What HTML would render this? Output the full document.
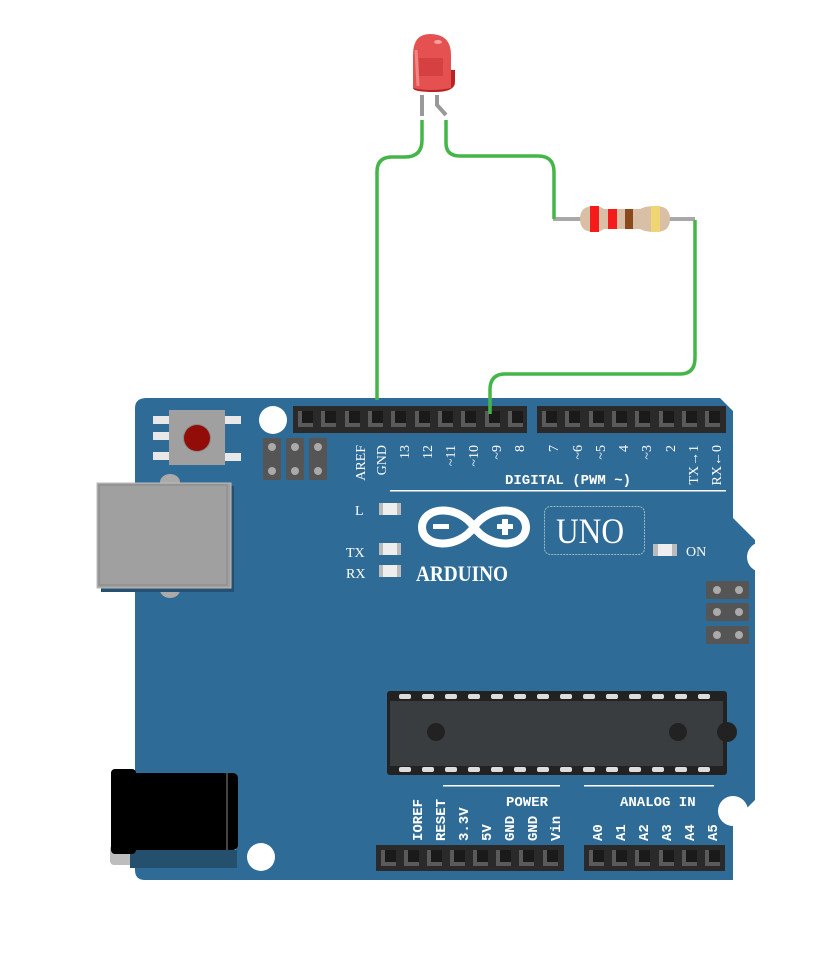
<!DOCTYPE html>
<html><head><style>
html,body{margin:0;padding:0;background:#fff}
svg{display:block}
.lab{font-family:"Liberation Serif",serif;font-size:14px;fill:#fff}
.bl{font-family:"Liberation Mono",monospace;font-size:14px;font-weight:bold;fill:#fff}
</style></head><body>
<svg width="819" height="957" viewBox="0 0 819 957" xmlns="http://www.w3.org/2000/svg">
<path d="M147,398 L720,398 L733,411 L733,518 L755,540 L755,800 L733,822 L733,880 L145,880 Q135,880 135,870 L135,408 Q135,398 147,398 Z" fill="#2f6b97"/>
<ellipse cx="170" cy="482" rx="10" ry="8" fill="#aaa"/>
<ellipse cx="170" cy="590" rx="10" ry="8" fill="#aaa"/>
<rect x="101" y="486" width="133" height="106" fill="#25506f"/>
<rect x="97" y="483" width="134" height="105" fill="#a0a0a0" stroke="#bbb" stroke-width="1"/>
<rect x="99" y="485" width="128" height="100" fill="none" stroke="#888" stroke-width="1"/>
<rect x="110" y="845" width="126" height="20" rx="4" fill="#bdbdbd"/>
<rect x="130" y="850" width="107" height="18" fill="#24506e"/>
<rect x="130" y="773" width="108" height="77" rx="5" fill="#000"/>
<rect x="226" y="773" width="2" height="77" fill="#444"/>
<rect x="111" y="769" width="25" height="85" rx="4" fill="#000"/>
<rect x="153" y="416" width="17" height="8" fill="#e8e8e8"/>
<rect x="153" y="432" width="17" height="8" fill="#e8e8e8"/>
<rect x="153" y="452" width="17" height="8" fill="#e8e8e8"/>
<rect x="224" y="416" width="17" height="8" fill="#e8e8e8"/>
<rect x="224" y="453" width="17" height="8" fill="#e8e8e8"/>
<rect x="169" y="410" width="56" height="55" fill="#a0a0a0"/>
<circle cx="197" cy="438" r="14" fill="#888"/>
<circle cx="197" cy="438" r="13" fill="#920c08"/>
<circle cx="273" cy="420" r="14" fill="#fff"/>
<circle cx="762" cy="557" r="15" fill="#fff"/>
<circle cx="733" cy="811" r="15" fill="#fff"/>
<circle cx="261" cy="857" r="14" fill="#fff"/>
<g fill="#555"><rect x="263" y="438" width="18" height="42" rx="2"/><rect x="286" y="438" width="18" height="42" rx="2"/><rect x="309" y="438" width="18" height="42" rx="2"/></g>
<g fill="#aaa"><circle cx="272" cy="447" r="4"/><circle cx="272" cy="471" r="4"/><circle cx="295" cy="447" r="4"/><circle cx="295" cy="471" r="4"/><circle cx="318" cy="447" r="4"/><circle cx="318" cy="471" r="4"/></g>
<g fill="#555"><rect x="706" y="581" width="43" height="18" rx="2"/><rect x="706" y="603" width="43" height="18" rx="2"/><rect x="706" y="626" width="43" height="18" rx="2"/></g>
<g fill="#aaa"><circle cx="717" cy="590" r="4"/><circle cx="739" cy="590" r="4"/><circle cx="717" cy="612" r="4"/><circle cx="739" cy="612" r="4"/><circle cx="717" cy="635" r="4"/><circle cx="739" cy="635" r="4"/></g>
<defs>
<g id="pin"><rect x="0" y="0" width="21" height="22" fill="#2a2a2a"/><path d="M3,3 L18,3 L18,19 L3,19 Z" fill="#5a5a5a"/><path d="M7,3 L18,3 L18,15 L7,15 Z" fill="#1a1a1a"/></g>
</defs>
<rect x="293" y="406" width="234" height="27" fill="#2a2a2a"/>
<rect x="537" y="406" width="189" height="27" fill="#2a2a2a"/>
<rect x="376" y="845" width="188" height="26" fill="#2a2a2a"/>
<rect x="584" y="845" width="141" height="26" fill="#2a2a2a"/>
<g>
<use href="#pin" x="295" y="408"/><use href="#pin" x="318" y="408"/><use href="#pin" x="342" y="408"/><use href="#pin" x="365" y="408"/><use href="#pin" x="388" y="408"/><use href="#pin" x="412" y="408"/><use href="#pin" x="435" y="408"/><use href="#pin" x="458" y="408"/><use href="#pin" x="482" y="408"/><use href="#pin" x="505" y="408"/>
<use href="#pin" x="539" y="408"/><use href="#pin" x="562" y="408"/><use href="#pin" x="586" y="408"/><use href="#pin" x="609" y="408"/><use href="#pin" x="632" y="408"/><use href="#pin" x="656" y="408"/><use href="#pin" x="679" y="408"/><use href="#pin" x="702" y="408"/>
<use href="#pin" x="378" y="847"/><use href="#pin" x="401" y="847"/><use href="#pin" x="424" y="847"/><use href="#pin" x="447" y="847"/><use href="#pin" x="470" y="847"/><use href="#pin" x="493" y="847"/><use href="#pin" x="516" y="847"/><use href="#pin" x="540" y="847"/>
<use href="#pin" x="586" y="847"/><use href="#pin" x="609" y="847"/><use href="#pin" x="632" y="847"/><use href="#pin" x="656" y="847"/><use href="#pin" x="679" y="847"/><use href="#pin" x="702" y="847"/>
</g>
<g class="lab">
<text transform="translate(365,445) rotate(-90)" text-anchor="end">AREF</text>
<text transform="translate(386,445) rotate(-90)" text-anchor="end">GND</text>
<text transform="translate(409,445) rotate(-90)" text-anchor="end">13</text>
<text transform="translate(432,445) rotate(-90)" text-anchor="end">12</text>
<text transform="translate(455,445) rotate(-90)" text-anchor="end">~11</text>
<text transform="translate(478,445) rotate(-90)" text-anchor="end">~10</text>
<text transform="translate(501,445) rotate(-90)" text-anchor="end">~9</text>
<text transform="translate(524,445) rotate(-90)" text-anchor="end">8</text>
<text transform="translate(558,445) rotate(-90)" text-anchor="end">7</text>
<text transform="translate(582,445) rotate(-90)" text-anchor="end">~6</text>
<text transform="translate(605,445) rotate(-90)" text-anchor="end">~5</text>
<text transform="translate(628,445) rotate(-90)" text-anchor="end">4</text>
<text transform="translate(651,445) rotate(-90)" text-anchor="end">~3</text>
<text transform="translate(675,445) rotate(-90)" text-anchor="end">2</text>
<text transform="translate(698,445) rotate(-90)" text-anchor="end">TX→1</text>
<text transform="translate(721,445) rotate(-90)" text-anchor="end">RX←0</text>
</g>
<text class="bl" x="505" y="484">DIGITAL (PWM ~)</text>
<rect x="390" y="490" width="336" height="1.5" fill="#fff"/>
<g class="lab">
<text x="355" y="515">L</text><text x="346" y="557">TX</text><text x="346" y="578">RX</text><text x="686" y="556">ON</text>
</g>
<g>
<rect x="379" y="503" width="22" height="12" fill="#bbb"/><rect x="383" y="503" width="14" height="12" fill="#eee"/>
<rect x="379" y="543" width="22" height="12" fill="#bbb"/><rect x="383" y="543" width="14" height="12" fill="#eee"/>
<rect x="379" y="565" width="22" height="12" fill="#bbb"/><rect x="383" y="565" width="14" height="12" fill="#eee"/>
<rect x="653" y="544" width="24" height="12" fill="#bbb"/><rect x="658" y="544" width="14" height="12" fill="#eee"/>
</g>
<g fill="none" stroke="#fff" stroke-width="8">
<path d="M474,527 C458,504 423,506 422,527 C422,548 458,550 474,527 C490,504 525,506 526,527 C526,548 490,550 474,527 Z"/>
</g>
<rect x="433" y="524" width="16" height="5" fill="#fff"/>
<rect x="497" y="524" width="16" height="5" fill="#fff"/>
<rect x="502" y="519" width="6" height="16" fill="#fff"/>
<text x="416" y="581" font-family="Liberation Serif,serif" font-size="22" fill="#fff" font-weight="bold" textLength="92" lengthAdjust="spacingAndGlyphs">ARDUINO</text>
<rect x="544.5" y="506.5" width="100" height="48" rx="6" fill="none" stroke="#9bb" stroke-width="1" stroke-dasharray="2,1"/>
<text x="556" y="543" font-family="Liberation Serif,serif" font-size="36" fill="#fff" textLength="68" lengthAdjust="spacingAndGlyphs">UNO</text>
<rect x="387" y="691" width="340" height="84" rx="3" fill="#222"/>
<rect x="390" y="701" width="333" height="65" fill="#3a3d40"/>
<g fill="#ddd">
<rect x="399" y="694" width="12" height="5" rx="2"/><rect x="422" y="694" width="12" height="5" rx="2"/><rect x="445" y="694" width="12" height="5" rx="2"/><rect x="468" y="694" width="12" height="5" rx="2"/><rect x="491" y="694" width="12" height="5" rx="2"/><rect x="514" y="694" width="12" height="5" rx="2"/><rect x="537" y="694" width="12" height="5" rx="2"/><rect x="560" y="694" width="12" height="5" rx="2"/><rect x="583" y="694" width="12" height="5" rx="2"/><rect x="606" y="694" width="12" height="5" rx="2"/><rect x="629" y="694" width="12" height="5" rx="2"/><rect x="652" y="694" width="12" height="5" rx="2"/><rect x="675" y="694" width="12" height="5" rx="2"/><rect x="698" y="694" width="12" height="5" rx="2"/>
<rect x="399" y="767" width="12" height="5" rx="2"/><rect x="422" y="767" width="12" height="5" rx="2"/><rect x="445" y="767" width="12" height="5" rx="2"/><rect x="468" y="767" width="12" height="5" rx="2"/><rect x="491" y="767" width="12" height="5" rx="2"/><rect x="514" y="767" width="12" height="5" rx="2"/><rect x="537" y="767" width="12" height="5" rx="2"/><rect x="560" y="767" width="12" height="5" rx="2"/><rect x="583" y="767" width="12" height="5" rx="2"/><rect x="606" y="767" width="12" height="5" rx="2"/><rect x="629" y="767" width="12" height="5" rx="2"/><rect x="652" y="767" width="12" height="5" rx="2"/><rect x="675" y="767" width="12" height="5" rx="2"/><rect x="698" y="767" width="12" height="5" rx="2"/>
</g>
<circle cx="436" cy="732" r="9" fill="#222"/>
<circle cx="678" cy="732" r="9" fill="#222"/>
<circle cx="727" cy="732" r="10" fill="#222"/>
<rect x="443" y="785" width="117" height="1.5" fill="#fff"/>
<rect x="584" y="785" width="130" height="1.5" fill="#fff"/>
<text class="bl" x="506" y="806">POWER</text>
<text class="bl" x="620" y="806">ANALOG IN</text>
<g class="bl">
<text transform="translate(422,841) rotate(-90)">IOREF</text>
<text transform="translate(445,841) rotate(-90)">RESET</text>
<text transform="translate(468,841) rotate(-90)">3.3V</text>
<text transform="translate(491,841) rotate(-90)">5V</text>
<text transform="translate(514,841) rotate(-90)">GND</text>
<text transform="translate(537,841) rotate(-90)">GND</text>
<text transform="translate(560,841) rotate(-90)">Vin</text>
<text transform="translate(602,841) rotate(-90)">A0</text>
<text transform="translate(625,841) rotate(-90)">A1</text>
<text transform="translate(648,841) rotate(-90)">A2</text>
<text transform="translate(671,841) rotate(-90)">A3</text>
<text transform="translate(694,841) rotate(-90)">A4</text>
<text transform="translate(717,841) rotate(-90)">A5</text>
</g>
<!-- LED -->
<path d="M422,95 L422,116" stroke="#999" stroke-width="4"/>
<path d="M437,95 L437,105 L446,115" stroke="#999" stroke-width="4" fill="none"/>
<path d="M413,70 L455,70 L455,82 Q455,92 435,92 Q413,92 413,88 Z" fill="#b82424"/>
<path d="M413,55 Q413,34 430,34 Q451,34 451,55 L451,88 Q430,92 413,88 Z" fill="#e55050"/>
<path d="M419,58 L443,58 L443,76 L419,76 Z" fill="#c93535" opacity="0.6"/>
<path d="M416,50 L418,86" stroke="#f08585" stroke-width="3"/>
<ellipse cx="438" cy="42" rx="4" ry="2" fill="#f7a0a0"/>
<!-- resistor -->
<path d="M553,219 L585,219 M668,219 L695,219" stroke="#a8a8a8" stroke-width="4"/>
<path d="M594,206 Q580,206 580,219 Q580,232 594,232 Q600,232 604,229 L640,229 Q645,232 656,232 Q670,232 670,219 Q670,206 656,206 Q645,206 640,209 L604,209 Q600,206 594,206 Z" fill="#d8bfa5"/>
<rect x="590" y="206" width="9" height="26" fill="#f61b1b"/>
<rect x="608" y="209" width="9" height="20" fill="#f61b1b"/>
<rect x="625" y="209" width="8" height="20" fill="#8b4a1c"/>
<rect x="651" y="206" width="9" height="26" fill="#efd672"/>
<g fill="none" stroke="#44b649" stroke-width="3.5">
<path d="M422,120 L422,140 Q422,157 405,157 L392,157 Q377,157 377,172 L377,400"/>
<path d="M446,120 L446,143 Q446,156 460,156 L538,156 Q554,156 554,172 L554,219"/>
<path d="M695,220 L695,358 Q695,374 680,374 L505,374 Q490,374 490,390 L490,414"/>
</g>
</svg>
</body></html>
